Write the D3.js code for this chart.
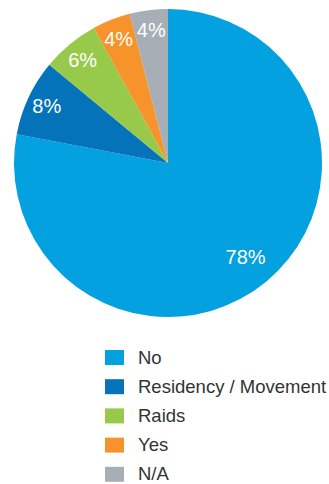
<!DOCTYPE html>
<html>
<head>
<meta charset="utf-8">
<script src="https://cdn.jsdelivr.net/npm/d3@7"></script>
<style>
  html, body { margin: 0; padding: 0; background: #fff; }
  svg { display: block; }
</style>
</head>
<body>
<svg id="chart" width="329" height="484"></svg>
<script>
// Response categories and their shares (percent)
const categories = ["No", "Residency / Movement", "Raids", "Yes", "N/A"];
const values = [78, 8, 6, 4, 4];
const colors = ["#04a1e1", "#0473b9", "#97c94a", "#f7932b", "#a7aeb5"];

const svg = d3.select("#chart");
const cx = 168, cy = 163, R = 154;

const data = categories.map((c, i) => ({ name: c, value: values[i], color: colors[i] }));

const pie = d3.pie().value(d => d.value).sort(null);
const arcs = pie(data);
const arc = d3.arc().innerRadius(0).outerRadius(R);

const g = svg.append("g").attr("transform", `translate(${cx},${cy})`);

g.selectAll("path.slice")
  .data(arcs)
  .join("path")
  .attr("class", "slice")
  .attr("d", arc)
  .attr("fill", d => d.data.color);

// Percentage labels inside the slices
g.selectAll("text.pct")
  .data(arcs)
  .join("text")
  .attr("class", "pct")
  .attr("transform", d => {
    const r = (d.data.value > 50 ? 0.79 : 0.87) * R;
    const a = (d.startAngle + d.endAngle) / 2;
    return `translate(${r * Math.sin(a)},${-r * Math.cos(a)})`;
  })
  .attr("dy", "0.36em")
  .attr("text-anchor", "middle")
  .attr("fill", "#fff")
  .style("font-family", "'Liberation Sans', Arial, sans-serif")
  .style("font-size", "20px")
  .text(d => d.data.value + "%");

// Legend
const legendY = d3.scaleBand().domain(categories).range([350, 496]).paddingInner(0);
const legend = svg.append("g");
const rows = legend.selectAll("g.row")
  .data(data)
  .join("g")
  .attr("class", "row")
  .attr("transform", d => `translate(105,${legendY(d.name)})`);

rows.append("rect")
  .attr("width", 19)
  .attr("height", 15)
  .attr("fill", d => d.color);

rows.append("text")
  .attr("x", 33)
  .attr("y", 13.5)
  .attr("fill", "#333")
  .style("font-family", "'Liberation Sans', Arial, sans-serif")
  .style("font-size", "18.5px")
  .text(d => d.name);
</script>
</body>
</html>
